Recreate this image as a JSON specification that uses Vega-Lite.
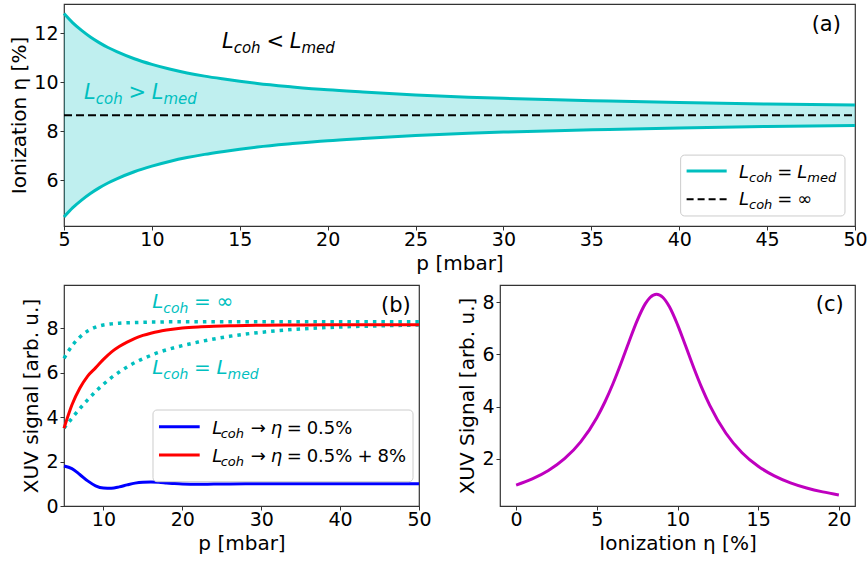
{
  "$schema": "https://vega.github.io/schema/vega-lite/v6.json",
  "background": "white",
  "padding": {"left": 9, "top": 3, "right": 5, "bottom": 5},
  "bounds": "flush",
  "spacing": 59,
  "datasets": {
    "bandA": [
      {"p": 5, "hi": 12.81, "lo": 4.49},
      {"p": 5.5, "hi": 12.43, "lo": 4.87},
      {"p": 6, "hi": 12.12, "lo": 5.18},
      {"p": 6.5, "hi": 11.85, "lo": 5.45},
      {"p": 7, "hi": 11.62, "lo": 5.68},
      {"p": 7.5, "hi": 11.42, "lo": 5.88},
      {"p": 8, "hi": 11.25, "lo": 6.05},
      {"p": 9, "hi": 10.96, "lo": 6.34},
      {"p": 10, "hi": 10.73, "lo": 6.57},
      {"p": 11, "hi": 10.54, "lo": 6.76},
      {"p": 12, "hi": 10.38, "lo": 6.92},
      {"p": 13, "hi": 10.25, "lo": 7.05},
      {"p": 14, "hi": 10.14, "lo": 7.16},
      {"p": 15, "hi": 10.04, "lo": 7.26},
      {"p": 16, "hi": 9.95, "lo": 7.35},
      {"p": 18, "hi": 9.81, "lo": 7.49},
      {"p": 20, "hi": 9.69, "lo": 7.61},
      {"p": 22, "hi": 9.60, "lo": 7.70},
      {"p": 25, "hi": 9.48, "lo": 7.82},
      {"p": 28, "hi": 9.39, "lo": 7.91},
      {"p": 30, "hi": 9.34, "lo": 7.96},
      {"p": 33, "hi": 9.28, "lo": 8.02},
      {"p": 36, "hi": 9.23, "lo": 8.07},
      {"p": 40, "hi": 9.17, "lo": 8.13},
      {"p": 45, "hi": 9.11, "lo": 8.19},
      {"p": 50, "hi": 9.07, "lo": 8.23}
    ],
    "eqA": [{"p": 5, "v": 8.65}, {"p": 50, "v": 8.65}],
    "boxA": [{"x1": 40.08, "x2": 49.43, "y1": 7.02, "y2": 4.53}],
    "keyA": [
      {"x1": 40.42, "x2": 42.70, "y": 6.37, "s": "med"},
      {"x1": 40.42, "x2": 42.70, "y": 5.21, "s": "inf"}
    ],
    "textA": [
      {"x": 6.138, "y": 9.31, "t": "L", "k": "it", "g": "in"},
      {"x": 6.804, "y": 9.31, "t": "coh", "k": "sub", "g": "in"},
      {"x": 8.664, "y": 9.31, "t": ">", "k": "up", "g": "in"},
      {"x": 9.995, "y": 9.31, "t": "L", "k": "it", "g": "in"},
      {"x": 10.661, "y": 9.31, "t": "med", "k": "sub", "g": "in"},
      {"x": 13.988, "y": 11.40, "t": "L", "k": "it", "g": "out"},
      {"x": 14.654, "y": 11.40, "t": "coh", "k": "sub", "g": "out"},
      {"x": 16.514, "y": 11.40, "t": "<", "k": "up", "g": "out"},
      {"x": 17.845, "y": 11.40, "t": "L", "k": "it", "g": "out"},
      {"x": 18.511, "y": 11.40, "t": "med", "k": "sub", "g": "out"},
      {"x": 43.40, "y": 6.10, "t": "L", "k": "it", "g": "leg"},
      {"x": 43.97, "y": 6.10, "t": "coh", "k": "sub", "g": "leg"},
      {"x": 45.58, "y": 6.10, "t": "=", "k": "up", "g": "leg"},
      {"x": 46.72, "y": 6.10, "t": "L", "k": "it", "g": "leg"},
      {"x": 47.29, "y": 6.10, "t": "med", "k": "sub", "g": "leg"},
      {"x": 43.40, "y": 4.98, "t": "L", "k": "it", "g": "leg"},
      {"x": 43.97, "y": 4.98, "t": "coh", "k": "sub", "g": "leg"},
      {"x": 45.58, "y": 4.98, "t": "=", "k": "up", "g": "leg"},
      {"x": 46.72, "y": 4.98, "t": "∞", "k": "up", "g": "leg"},
      {"x": 49.20, "y": 12.11, "t": "(a)", "k": "tag", "g": "tag"}
    ],
    "curvesB": [
      {"p": 5, "red": 3.50, "blue": 1.80, "inf": 6.65, "med": 3.50},
      {"p": 6, "red": 4.55, "blue": 1.68, "inf": 7.20, "med": 3.95},
      {"p": 7, "red": 5.30, "blue": 1.42, "inf": 7.60, "med": 4.38},
      {"p": 8, "red": 5.85, "blue": 1.13, "inf": 7.88, "med": 4.78},
      {"p": 9, "red": 6.22, "blue": 0.91, "inf": 8.05, "med": 5.15},
      {"p": 10, "red": 6.60, "blue": 0.81, "inf": 8.15, "med": 5.48},
      {"p": 11, "red": 6.93, "blue": 0.80, "inf": 8.20, "med": 5.78},
      {"p": 12, "red": 7.18, "blue": 0.86, "inf": 8.23, "med": 6.03},
      {"p": 13, "red": 7.38, "blue": 0.95, "inf": 8.25, "med": 6.26},
      {"p": 14, "red": 7.55, "blue": 1.03, "inf": 8.26, "med": 6.46},
      {"p": 15, "red": 7.68, "blue": 1.07, "inf": 8.27, "med": 6.63},
      {"p": 16, "red": 7.78, "blue": 1.08, "inf": 8.28, "med": 6.78},
      {"p": 17, "red": 7.86, "blue": 1.07, "inf": 8.28, "med": 6.92},
      {"p": 18, "red": 7.92, "blue": 1.04, "inf": 8.29, "med": 7.03},
      {"p": 19, "red": 7.97, "blue": 1.01, "inf": 8.29, "med": 7.13},
      {"p": 20, "red": 8.01, "blue": 0.99, "inf": 8.29, "med": 7.22},
      {"p": 22, "red": 8.06, "blue": 0.98, "inf": 8.29, "med": 7.38},
      {"p": 24, "red": 8.09, "blue": 0.985, "inf": 8.30, "med": 7.52},
      {"p": 26, "red": 8.11, "blue": 0.995, "inf": 8.30, "med": 7.64},
      {"p": 28, "red": 8.13, "blue": 1.0, "inf": 8.30, "med": 7.74},
      {"p": 30, "red": 8.14, "blue": 1.0, "inf": 8.30, "med": 7.82},
      {"p": 33, "red": 8.15, "blue": 1.0, "inf": 8.30, "med": 7.92},
      {"p": 36, "red": 8.15, "blue": 1.0, "inf": 8.30, "med": 7.99},
      {"p": 40, "red": 8.16, "blue": 1.0, "inf": 8.30, "med": 8.06},
      {"p": 45, "red": 8.16, "blue": 1.0, "inf": 8.30, "med": 8.11},
      {"p": 50, "red": 8.16, "blue": 1.0, "inf": 8.30, "med": 8.15}
    ],
    "boxB": [{"x1": 16.28, "x2": 49.24, "y1": 4.322, "y2": 1.094}],
    "keyB": [
      {"x1": 17.04, "x2": 22.20, "y": 3.57, "s": "blue"},
      {"x1": 17.04, "x2": 22.20, "y": 2.296, "s": "red"}
    ],
    "textB": [
      {"x": 16.18, "y": 8.915, "t": "L", "k": "it", "g": "ann"},
      {"x": 17.59, "y": 8.915, "t": "coh", "k": "sub", "g": "ann"},
      {"x": 21.48, "y": 8.915, "t": "=", "k": "up", "g": "ann"},
      {"x": 24.32, "y": 8.915, "t": "∞", "k": "up", "g": "ann"},
      {"x": 16.18, "y": 5.943, "t": "L", "k": "it", "g": "ann"},
      {"x": 17.59, "y": 5.943, "t": "coh", "k": "sub", "g": "ann"},
      {"x": 21.48, "y": 5.943, "t": "=", "k": "up", "g": "ann"},
      {"x": 24.32, "y": 5.943, "t": "L", "k": "it", "g": "ann"},
      {"x": 25.73, "y": 5.943, "t": "med", "k": "sub", "g": "ann"},
      {"x": 23.79, "y": 3.264, "t": "L", "k": "it", "g": "leg"},
      {"x": 24.86, "y": 3.264, "t": "coh", "k": "sub", "g": "leg"},
      {"x": 28.67, "y": 3.264, "t": "→", "k": "up", "g": "leg"},
      {"x": 31.20, "y": 3.264, "t": "η", "k": "it", "g": "leg"},
      {"x": 33.23, "y": 3.264, "t": "=", "k": "up", "g": "leg"},
      {"x": 35.76, "y": 3.264, "t": "0.5%", "k": "up", "g": "leg"},
      {"x": 23.79, "y": 1.995, "t": "L", "k": "it", "g": "leg"},
      {"x": 24.86, "y": 1.995, "t": "coh", "k": "sub", "g": "leg"},
      {"x": 28.67, "y": 1.995, "t": "→", "k": "up", "g": "leg"},
      {"x": 31.20, "y": 1.995, "t": "η", "k": "it", "g": "leg"},
      {"x": 33.23, "y": 1.995, "t": "=", "k": "up", "g": "leg"},
      {"x": 35.76, "y": 1.995, "t": "0.5%", "k": "up", "g": "leg"},
      {"x": 42.19, "y": 1.995, "t": "+", "k": "up", "g": "leg"},
      {"x": 44.74, "y": 1.995, "t": "8%", "k": "up", "g": "leg"},
      {"x": 48.95, "y": 8.72, "t": "(b)", "k": "tag", "g": "tag"}
    ],
    "curveC": [
      {"eta": 0, "s": 1.000}, {"eta": 1, "s": 1.236}, {"eta": 2, "s": 1.558},
      {"eta": 3, "s": 2.008}, {"eta": 4, "s": 2.652}, {"eta": 5, "s": 3.578},
      {"eta": 5.5, "s": 4.177}, {"eta": 6, "s": 4.874}, {"eta": 6.5, "s": 5.658},
      {"eta": 7, "s": 6.490}, {"eta": 7.5, "s": 7.288}, {"eta": 8, "s": 7.927},
      {"eta": 8.3, "s": 8.174}, {"eta": 8.7, "s": 8.300}, {"eta": 9.1, "s": 8.174},
      {"eta": 9.5, "s": 7.818}, {"eta": 10, "s": 7.137}, {"eta": 10.5, "s": 6.326},
      {"eta": 11, "s": 5.497}, {"eta": 11.5, "s": 4.727}, {"eta": 12, "s": 4.049},
      {"eta": 13, "s": 2.982}, {"eta": 14, "s": 2.238}, {"eta": 15, "s": 1.719},
      {"eta": 16, "s": 1.352}, {"eta": 17, "s": 1.086}, {"eta": 18, "s": 0.889},
      {"eta": 19, "s": 0.739}, {"eta": 20, "s": 0.624}
    ],
    "textC": [{"x": 20.30, "y": 7.67, "t": "(c)"}]
  },
  "vconcat": [
    {
      "width": 791,
      "height": 222,
      "layer": [
        {
          "data": {"name": "bandA"},
          "mark": {"type": "area", "color": "#00bfbf", "opacity": 0.25, "interpolate": "monotone"},
          "encoding": {
            "x": {"field": "p", "type": "quantitative", "scale": {"domain": [5, 50], "nice": false, "zero": false}, "axis": {"title": "p [mbar]", "values": [5, 10, 15, 20, 25, 30, 35, 40, 45, 50]}},
            "y": {"field": "hi", "type": "quantitative", "scale": {"domain": [4.12, 13.2], "nice": false, "zero": false}, "axis": {"title": "Ionization η [%]", "values": [6, 8, 10, 12]}},
            "y2": {"field": "lo"}
          }
        },
        {
          "data": {"name": "bandA"},
          "mark": {"type": "line", "color": "#00bfbf", "strokeWidth": 3, "interpolate": "monotone"},
          "encoding": {
            "x": {"field": "p", "type": "quantitative", "scale": {"domain": [5, 50], "nice": false, "zero": false}},
            "y": {"field": "hi", "type": "quantitative", "scale": {"domain": [4.12, 13.2], "nice": false, "zero": false}}
          }
        },
        {
          "data": {"name": "bandA"},
          "mark": {"type": "line", "color": "#00bfbf", "strokeWidth": 3, "interpolate": "monotone"},
          "encoding": {
            "x": {"field": "p", "type": "quantitative", "scale": {"domain": [5, 50], "nice": false, "zero": false}},
            "y": {"field": "lo", "type": "quantitative", "scale": {"domain": [4.12, 13.2], "nice": false, "zero": false}}
          }
        },
        {
          "data": {"name": "eqA"},
          "mark": {"type": "line", "color": "#000000", "strokeWidth": 2, "strokeDash": [8, 4]},
          "encoding": {
            "x": {"field": "p", "type": "quantitative", "scale": {"domain": [5, 50], "nice": false, "zero": false}},
            "y": {"field": "v", "type": "quantitative", "scale": {"domain": [4.12, 13.2], "nice": false, "zero": false}}
          }
        },
        {
          "data": {"name": "boxA"},
          "mark": {"type": "rect", "fill": "#ffffff", "fillOpacity": 0.85, "stroke": "#cccccc", "strokeWidth": 1, "cornerRadius": 4},
          "encoding": {
            "x": {"field": "x1", "type": "quantitative", "scale": {"domain": [5, 50], "nice": false, "zero": false}},
            "x2": {"field": "x2"},
            "y": {"field": "y1", "type": "quantitative", "scale": {"domain": [4.12, 13.2], "nice": false, "zero": false}},
            "y2": {"field": "y2"}
          }
        },
        {
          "data": {"name": "keyA"},
          "transform": [{"filter": "datum.s === 'med'"}],
          "mark": {"type": "rule", "color": "#00bfbf", "strokeWidth": 3},
          "encoding": {
            "x": {"field": "x1", "type": "quantitative", "scale": {"domain": [5, 50], "nice": false, "zero": false}},
            "x2": {"field": "x2"},
            "y": {"field": "y", "type": "quantitative", "scale": {"domain": [4.12, 13.2], "nice": false, "zero": false}}
          }
        },
        {
          "data": {"name": "keyA"},
          "transform": [{"filter": "datum.s === 'inf'"}],
          "mark": {"type": "rule", "color": "#000000", "strokeWidth": 2, "strokeDash": [7, 4]},
          "encoding": {
            "x": {"field": "x1", "type": "quantitative", "scale": {"domain": [5, 50], "nice": false, "zero": false}},
            "x2": {"field": "x2"},
            "y": {"field": "y", "type": "quantitative", "scale": {"domain": [4.12, 13.2], "nice": false, "zero": false}}
          }
        },
        {
          "data": {"name": "textA"},
          "transform": [{"filter": "datum.k === 'it' && datum.g !== 'leg'"}],
          "mark": {"type": "text", "font": "DejaVu Sans", "fontStyle": "italic", "fontSize": 21, "align": "left", "baseline": "alphabetic"},
          "encoding": {
            "x": {"field": "x", "type": "quantitative", "scale": {"domain": [5, 50], "nice": false, "zero": false}},
            "y": {"field": "y", "type": "quantitative", "scale": {"domain": [4.12, 13.2], "nice": false, "zero": false}},
            "text": {"field": "t"},
            "color": {"field": "g", "type": "nominal", "scale": {"domain": ["in", "out"], "range": ["#00bfbf", "#000000"]}, "legend": null}
          }
        },
        {
          "data": {"name": "textA"},
          "transform": [{"filter": "datum.k === 'sub' && datum.g !== 'leg'"}],
          "mark": {"type": "text", "font": "DejaVu Sans", "fontStyle": "italic", "fontSize": 15, "align": "left", "baseline": "alphabetic", "dy": 5},
          "encoding": {
            "x": {"field": "x", "type": "quantitative", "scale": {"domain": [5, 50], "nice": false, "zero": false}},
            "y": {"field": "y", "type": "quantitative", "scale": {"domain": [4.12, 13.2], "nice": false, "zero": false}},
            "text": {"field": "t"},
            "color": {"field": "g", "type": "nominal", "scale": {"domain": ["in", "out"], "range": ["#00bfbf", "#000000"]}, "legend": null}
          }
        },
        {
          "data": {"name": "textA"},
          "transform": [{"filter": "datum.k === 'up' && datum.g !== 'leg'"}],
          "mark": {"type": "text", "font": "DejaVu Sans", "fontSize": 21, "align": "left", "baseline": "alphabetic"},
          "encoding": {
            "x": {"field": "x", "type": "quantitative", "scale": {"domain": [5, 50], "nice": false, "zero": false}},
            "y": {"field": "y", "type": "quantitative", "scale": {"domain": [4.12, 13.2], "nice": false, "zero": false}},
            "text": {"field": "t"},
            "color": {"field": "g", "type": "nominal", "scale": {"domain": ["in", "out"], "range": ["#00bfbf", "#000000"]}, "legend": null}
          }
        },
        {
          "data": {"name": "textA"},
          "transform": [{"filter": "datum.k === 'it' && datum.g === 'leg'"}],
          "mark": {"type": "text", "font": "DejaVu Sans", "fontStyle": "italic", "fontSize": 18, "align": "left", "baseline": "alphabetic", "color": "#000000"},
          "encoding": {
            "x": {"field": "x", "type": "quantitative", "scale": {"domain": [5, 50], "nice": false, "zero": false}},
            "y": {"field": "y", "type": "quantitative", "scale": {"domain": [4.12, 13.2], "nice": false, "zero": false}},
            "text": {"field": "t"}
          }
        },
        {
          "data": {"name": "textA"},
          "transform": [{"filter": "datum.k === 'sub' && datum.g === 'leg'"}],
          "mark": {"type": "text", "font": "DejaVu Sans", "fontStyle": "italic", "fontSize": 13, "align": "left", "baseline": "alphabetic", "dy": 4, "color": "#000000"},
          "encoding": {
            "x": {"field": "x", "type": "quantitative", "scale": {"domain": [5, 50], "nice": false, "zero": false}},
            "y": {"field": "y", "type": "quantitative", "scale": {"domain": [4.12, 13.2], "nice": false, "zero": false}},
            "text": {"field": "t"}
          }
        },
        {
          "data": {"name": "textA"},
          "transform": [{"filter": "datum.k === 'up' && datum.g === 'leg'"}],
          "mark": {"type": "text", "font": "DejaVu Sans", "fontSize": 18, "align": "left", "baseline": "alphabetic", "color": "#000000"},
          "encoding": {
            "x": {"field": "x", "type": "quantitative", "scale": {"domain": [5, 50], "nice": false, "zero": false}},
            "y": {"field": "y", "type": "quantitative", "scale": {"domain": [4.12, 13.2], "nice": false, "zero": false}},
            "text": {"field": "t"}
          }
        },
        {
          "data": {"name": "textA"},
          "transform": [{"filter": "datum.k === 'tag'"}],
          "mark": {"type": "text", "font": "DejaVu Sans", "fontSize": 21, "align": "right", "baseline": "alphabetic", "color": "#000000"},
          "encoding": {
            "x": {"field": "x", "type": "quantitative", "scale": {"domain": [5, 50], "nice": false, "zero": false}},
            "y": {"field": "y", "type": "quantitative", "scale": {"domain": [4.12, 13.2], "nice": false, "zero": false}},
            "text": {"field": "t"}
          }
        }
      ]
    },
    {
      "spacing": 81,
      "bounds": "flush",
      "hconcat": [
        {
          "width": 355,
          "height": 221,
          "layer": [
            {
              "data": {"name": "curvesB"},
              "mark": {"type": "line", "color": "#00bfbf", "strokeWidth": 3.5, "strokeDash": [3.5, 5], "interpolate": "monotone"},
              "encoding": {
                "x": {"field": "p", "type": "quantitative", "scale": {"domain": [5, 50], "nice": false, "zero": false}, "axis": {"title": "p [mbar]", "values": [10, 20, 30, 40, 50]}},
                "y": {"field": "inf", "type": "quantitative", "scale": {"domain": [0, 9.95], "nice": false, "zero": false}, "axis": {"title": "XUV signal [arb. u.]", "values": [0, 2, 4, 6, 8]}}
              }
            },
            {
              "data": {"name": "curvesB"},
              "mark": {"type": "line", "color": "#00bfbf", "strokeWidth": 3.5, "strokeDash": [3.5, 5], "interpolate": "monotone"},
              "encoding": {
                "x": {"field": "p", "type": "quantitative", "scale": {"domain": [5, 50], "nice": false, "zero": false}},
                "y": {"field": "med", "type": "quantitative", "scale": {"domain": [0, 9.95], "nice": false, "zero": false}}
              }
            },
            {
              "data": {"name": "curvesB"},
              "mark": {"type": "line", "color": "#ff0000", "strokeWidth": 3, "interpolate": "monotone"},
              "encoding": {
                "x": {"field": "p", "type": "quantitative", "scale": {"domain": [5, 50], "nice": false, "zero": false}},
                "y": {"field": "red", "type": "quantitative", "scale": {"domain": [0, 9.95], "nice": false, "zero": false}}
              }
            },
            {
              "data": {"name": "curvesB"},
              "mark": {"type": "line", "color": "#0000ff", "strokeWidth": 3, "interpolate": "monotone"},
              "encoding": {
                "x": {"field": "p", "type": "quantitative", "scale": {"domain": [5, 50], "nice": false, "zero": false}},
                "y": {"field": "blue", "type": "quantitative", "scale": {"domain": [0, 9.95], "nice": false, "zero": false}}
              }
            },
            {
              "data": {"name": "boxB"},
              "mark": {"type": "rect", "fill": "#ffffff", "fillOpacity": 0.85, "stroke": "#cccccc", "strokeWidth": 1, "cornerRadius": 4},
              "encoding": {
                "x": {"field": "x1", "type": "quantitative", "scale": {"domain": [5, 50], "nice": false, "zero": false}},
                "x2": {"field": "x2"},
                "y": {"field": "y1", "type": "quantitative", "scale": {"domain": [0, 9.95], "nice": false, "zero": false}},
                "y2": {"field": "y2"}
              }
            },
            {
              "data": {"name": "keyB"},
              "transform": [{"filter": "datum.s === 'blue'"}],
              "mark": {"type": "rule", "color": "#0000ff", "strokeWidth": 3},
              "encoding": {
                "x": {"field": "x1", "type": "quantitative", "scale": {"domain": [5, 50], "nice": false, "zero": false}},
                "x2": {"field": "x2"},
                "y": {"field": "y", "type": "quantitative", "scale": {"domain": [0, 9.95], "nice": false, "zero": false}}
              }
            },
            {
              "data": {"name": "keyB"},
              "transform": [{"filter": "datum.s === 'red'"}],
              "mark": {"type": "rule", "color": "#ff0000", "strokeWidth": 3},
              "encoding": {
                "x": {"field": "x1", "type": "quantitative", "scale": {"domain": [5, 50], "nice": false, "zero": false}},
                "x2": {"field": "x2"},
                "y": {"field": "y", "type": "quantitative", "scale": {"domain": [0, 9.95], "nice": false, "zero": false}}
              }
            },
            {
              "data": {"name": "textB"},
              "transform": [{"filter": "datum.k === 'it' && datum.g === 'ann'"}],
              "mark": {"type": "text", "font": "DejaVu Sans", "fontStyle": "italic", "fontSize": 20, "align": "left", "baseline": "alphabetic", "color": "#00bfbf"},
              "encoding": {
                "x": {"field": "x", "type": "quantitative", "scale": {"domain": [5, 50], "nice": false, "zero": false}},
                "y": {"field": "y", "type": "quantitative", "scale": {"domain": [0, 9.95], "nice": false, "zero": false}},
                "text": {"field": "t"}
              }
            },
            {
              "data": {"name": "textB"},
              "transform": [{"filter": "datum.k === 'sub' && datum.g === 'ann'"}],
              "mark": {"type": "text", "font": "DejaVu Sans", "fontStyle": "italic", "fontSize": 14, "align": "left", "baseline": "alphabetic", "dy": 5, "color": "#00bfbf"},
              "encoding": {
                "x": {"field": "x", "type": "quantitative", "scale": {"domain": [5, 50], "nice": false, "zero": false}},
                "y": {"field": "y", "type": "quantitative", "scale": {"domain": [0, 9.95], "nice": false, "zero": false}},
                "text": {"field": "t"}
              }
            },
            {
              "data": {"name": "textB"},
              "transform": [{"filter": "datum.k === 'up' && datum.g === 'ann'"}],
              "mark": {"type": "text", "font": "DejaVu Sans", "fontSize": 20, "align": "left", "baseline": "alphabetic", "color": "#00bfbf"},
              "encoding": {
                "x": {"field": "x", "type": "quantitative", "scale": {"domain": [5, 50], "nice": false, "zero": false}},
                "y": {"field": "y", "type": "quantitative", "scale": {"domain": [0, 9.95], "nice": false, "zero": false}},
                "text": {"field": "t"}
              }
            },
            {
              "data": {"name": "textB"},
              "transform": [{"filter": "datum.k === 'it' && datum.g === 'leg'"}],
              "mark": {"type": "text", "font": "DejaVu Sans", "fontStyle": "italic", "fontSize": 18, "align": "left", "baseline": "alphabetic", "color": "#000000"},
              "encoding": {
                "x": {"field": "x", "type": "quantitative", "scale": {"domain": [5, 50], "nice": false, "zero": false}},
                "y": {"field": "y", "type": "quantitative", "scale": {"domain": [0, 9.95], "nice": false, "zero": false}},
                "text": {"field": "t"}
              }
            },
            {
              "data": {"name": "textB"},
              "transform": [{"filter": "datum.k === 'sub' && datum.g === 'leg'"}],
              "mark": {"type": "text", "font": "DejaVu Sans", "fontStyle": "italic", "fontSize": 13, "align": "left", "baseline": "alphabetic", "dy": 4, "color": "#000000"},
              "encoding": {
                "x": {"field": "x", "type": "quantitative", "scale": {"domain": [5, 50], "nice": false, "zero": false}},
                "y": {"field": "y", "type": "quantitative", "scale": {"domain": [0, 9.95], "nice": false, "zero": false}},
                "text": {"field": "t"}
              }
            },
            {
              "data": {"name": "textB"},
              "transform": [{"filter": "datum.k === 'up' && datum.g === 'leg'"}],
              "mark": {"type": "text", "font": "DejaVu Sans", "fontSize": 18, "align": "left", "baseline": "alphabetic", "color": "#000000"},
              "encoding": {
                "x": {"field": "x", "type": "quantitative", "scale": {"domain": [5, 50], "nice": false, "zero": false}},
                "y": {"field": "y", "type": "quantitative", "scale": {"domain": [0, 9.95], "nice": false, "zero": false}},
                "text": {"field": "t"}
              }
            },
            {
              "data": {"name": "textB"},
              "transform": [{"filter": "datum.k === 'tag'"}],
              "mark": {"type": "text", "font": "DejaVu Sans", "fontSize": 21, "align": "right", "baseline": "alphabetic", "color": "#000000"},
              "encoding": {
                "x": {"field": "x", "type": "quantitative", "scale": {"domain": [5, 50], "nice": false, "zero": false}},
                "y": {"field": "y", "type": "quantitative", "scale": {"domain": [0, 9.95], "nice": false, "zero": false}},
                "text": {"field": "t"}
              }
            }
          ]
        },
        {
          "width": 355,
          "height": 221,
          "layer": [
            {
              "data": {"name": "curveC"},
              "mark": {"type": "line", "color": "#bf00bf", "strokeWidth": 3, "interpolate": "monotone"},
              "encoding": {
                "x": {"field": "eta", "type": "quantitative", "scale": {"domain": [-1, 21], "nice": false, "zero": false}, "axis": {"title": "Ionization η [%]", "values": [0, 5, 10, 15, 20]}},
                "y": {"field": "s", "type": "quantitative", "scale": {"domain": [0.2, 8.65], "nice": false, "zero": false}, "axis": {"title": "XUV Signal [arb. u.]", "values": [2, 4, 6, 8]}}
              }
            },
            {
              "data": {"name": "textC"},
              "mark": {"type": "text", "font": "DejaVu Sans", "fontSize": 21, "align": "right", "baseline": "alphabetic", "color": "#000000"},
              "encoding": {
                "x": {"field": "x", "type": "quantitative", "scale": {"domain": [-1, 21], "nice": false, "zero": false}},
                "y": {"field": "y", "type": "quantitative", "scale": {"domain": [0.2, 8.65], "nice": false, "zero": false}},
                "text": {"field": "t"}
              }
            }
          ]
        }
      ]
    }
  ],
  "config": {
    "view": {"stroke": "#333333", "strokeWidth": 1.2},
    "axis": {
      "domain": false,
      "grid": false,
      "ticks": true,
      "tickSize": 4,
      "tickColor": "#333333",
      "tickWidth": 1,
      "labelFont": "DejaVu Sans",
      "labelFontSize": 19,
      "labelColor": "#000000",
      "labelPadding": 2,
      "labelFlush": false,
      "labelOverlap": false,
      "titleFont": "DejaVu Sans",
      "titleFontSize": 20,
      "titleFontWeight": "normal",
      "titleColor": "#000000",
      "titlePadding": 4
    },
    "axisX": {"labelPadding": 0},
    "text": {"font": "DejaVu Sans"}
  }
}
